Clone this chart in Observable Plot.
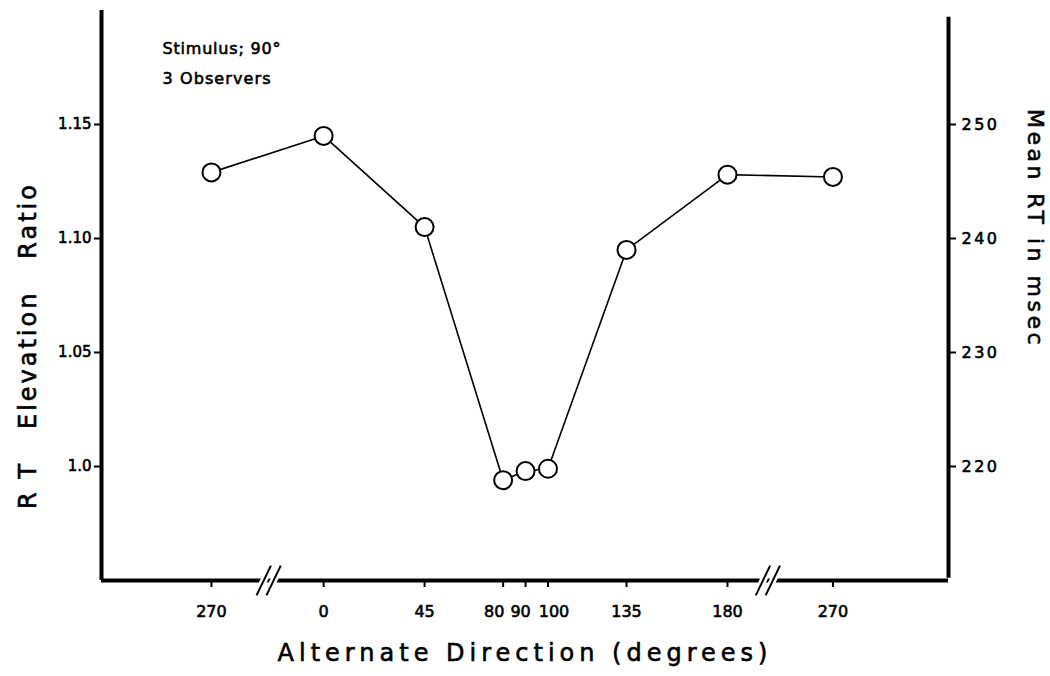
<!DOCTYPE html>
<html>
<head>
<meta charset="utf-8">
<script src="https://cdn.jsdelivr.net/npm/d3@7"></script>
<script src="https://cdn.jsdelivr.net/npm/@observablehq/plot@0.6"></script>
<style>
  html, body { margin: 0; padding: 0; background: #fff; }
  svg { font-family: "DejaVu Sans", sans-serif; }
</style>
</head>
<body>
<div id="chart"></div>
<script>
// Alternate directions (labels) and their positions along the broken x axis
const directionLabels = ["270", "0", "45", "80", "90", "100", "135", "180", "270"];
const axisPositions   = [-50, 0, 45, 80, 90, 100, 135, 180, 227];
// RT elevation ratio
const rtRatio = [1.129, 1.145, 1.105, 0.994, 0.998, 0.999, 1.095, 1.128, 1.127];
// Axis breaks (between 270 and 0, between 180 and 270)
const breakPositions = [-24.5, 198];
// Left and right axis ticks
const ratioTicks = [1.0, 1.05, 1.10, 1.15];
const ratioTickLabels = ["1.0", "1.05", "1.10", "1.15"];
const msecTicks = [220, 230, 240, 250];

const data = directionLabels.map((d, i) => ({label: d, x: axisPositions[i], y: rtRatio[i]}));
// right axis: 220 msec aligned with ratio 1.0, 10 msec per 0.05
const msecToRatio = m => 1 + (m - 220) / 200;
const dirLabel = d => directionLabels[axisPositions.indexOf(d)];

const xDomain = [-99, 278.5];
const yDomain = [0.95, 1.2];

const breakLinks = [];
breakPositions.forEach(b => {
  [-2.2, 2.2].forEach(o => breakLinks.push({x1: b + o - 3.2, y1: 0.9435, x2: b + o + 3.2, y2: 0.9565}));
});

// crowded labels (80, 90, 100) are nudged apart as in the original
const xLabelAxis = (ticks, dx) => Plot.axisX({
  ticks, tickFormat: dirLabel, tickSize: 0, tickPadding: 25, fontSize: 16, label: null, dx
});

const chart = Plot.plot({
  width: 1050,
  height: 676,
  marginLeft: 101,
  marginRight: 102,
  marginTop: 10,
  marginBottom: 96,
  x: {domain: xDomain},
  y: {domain: yDomain},
  style: {fontFamily: "DejaVu Sans, sans-serif", color: "#000", background: "#fff"},
  marks: [
    // axis lines
    Plot.ruleX([xDomain[0]], {stroke: "#000", strokeWidth: 4}),
    Plot.ruleX([xDomain[1]], {stroke: "#000", strokeWidth: 4, y1: 0.951, y2: 1.197}),
    Plot.ruleY([yDomain[0]], {stroke: "#000", strokeWidth: 4}),
    // axis breaks
    Plot.link(breakLinks, {x1: "x1", y1: "y1", x2: "x2", y2: "y2", stroke: "#fff", strokeWidth: 7}),
    Plot.link(breakLinks, {x1: "x1", y1: "y1", x2: "x2", y2: "y2", stroke: "#000", strokeWidth: 2}),
    // x ticks and labels
    Plot.axisX({ticks: axisPositions, tickFormat: () => "", tickSize: 7, label: null, strokeWidth: 2}),
    xLabelAxis(axisPositions.filter(p => p !== 80 && p !== 90 && p !== 100), 0),
    xLabelAxis([80], -9),
    xLabelAxis([90], -5),
    xLabelAxis([100], 6),
    // y axes
    Plot.axisY({
      anchor: "left",
      ticks: ratioTicks,
      tickFormat: (d) => ratioTickLabels[ratioTicks.indexOf(d)],
      tickSize: 7, tickPadding: 3, fontSize: 15, label: null, strokeWidth: 2
    }),
    Plot.axisY({
      anchor: "right",
      ticks: msecTicks.map(msecToRatio),
      tickFormat: (d, i) => String(msecTicks[i]),
      tickSize: 7, tickPadding: 6, fontSize: 16, label: null, strokeWidth: 2
    }),
    // data
    Plot.line(data, {x: "x", y: "y", stroke: "#000", strokeWidth: 1.6}),
    Plot.dot(data, {x: "x", y: "y", r: 9, fill: "#fff", stroke: "#000", strokeWidth: 2}),
    // annotations
    Plot.text(["Stimulus; 90°"], {frameAnchor: "top-left", dx: 61, dy: 32, fontSize: 16, textAnchor: "start"}),
    Plot.text(["3 Observers"], {frameAnchor: "top-left", dx: 61, dy: 62, fontSize: 16, textAnchor: "start"}),
    // axis titles
    Plot.text(["R T   Elevation   Ratio"], {frameAnchor: "left", dx: -73, dy: 50, rotate: -90, fontSize: 24, textAnchor: "middle"}),
    Plot.text(["Mean RT in msec"], {frameAnchor: "right", dx: 87, dy: -67, rotate: 90, fontSize: 22, textAnchor: "middle"}),
    Plot.text(["Alternate Direction (degrees)"], {frameAnchor: "bottom", dx: 0, dy: 80, fontSize: 24, textAnchor: "middle"})
  ]
});
document.getElementById("chart").appendChild(chart);

// letter spacing to mimic the original lettering
const spacing = {
  "Stimulus; 90°": 0.8,
  "3 Observers": 1.1,
  "R T   Elevation   Ratio": 3,
  "Mean RT in msec": 3.5,
  "Alternate Direction (degrees)": 5
};
d3.select(chart).selectAll("text").each(function() {
  const t = this.textContent;
  if (spacing[t] !== undefined) d3.select(this).attr("letter-spacing", spacing[t]);
  // slightly heavier strokes like the inked lettering
  d3.select(this).attr("stroke", "#000").attr("stroke-width", 0.6).attr("paint-order", "fill");
});
d3.select(chart).selectAll('g[aria-label="y-axis tick label"] text').each(function() {
  if (msecTicks.map(String).includes(this.textContent)) d3.select(this).attr("letter-spacing", 2.5);
});
</script>
</body>
</html>
